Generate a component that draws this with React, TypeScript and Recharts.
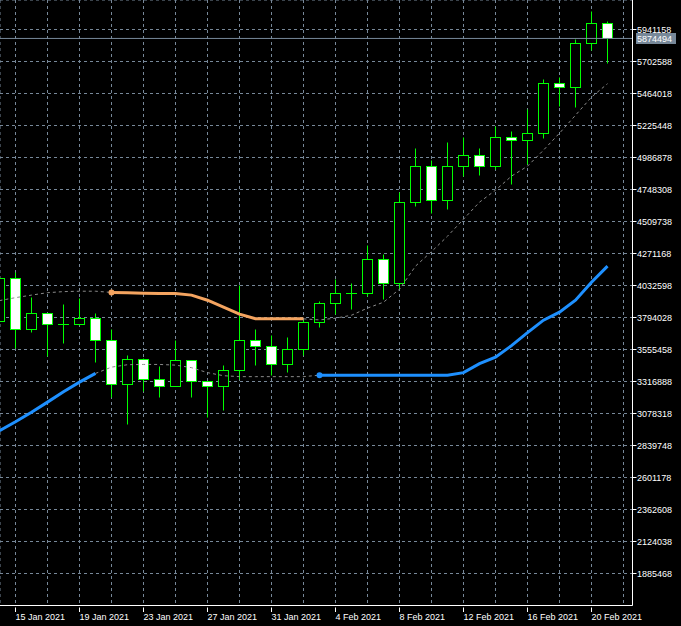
import { ComposedChart, Bar, Line, XAxis, YAxis, CartesianGrid, ReferenceLine } from 'recharts'

const days = [
  '14 Jan', '15 Jan', '16 Jan', '17 Jan', '18 Jan', '19 Jan', '20 Jan', '21 Jan', '22 Jan', '23 Jan',
  '24 Jan', '25 Jan', '26 Jan', '27 Jan', '28 Jan', '29 Jan', '30 Jan', '31 Jan', '1 Feb', '2 Feb',
  '3 Feb', '4 Feb', '5 Feb', '6 Feb', '7 Feb', '8 Feb', '9 Feb', '10 Feb', '11 Feb', '12 Feb',
  '13 Feb', '14 Feb', '15 Feb', '16 Feb', '17 Feb', '18 Feb', '19 Feb', '20 Feb', '21 Feb'
]

const opens = [
  3769000, 4085000, 3705000, 3824000, 3742000, 3742000, 3794000, 3623000, 3295000, 3481000,
  3339000, 3287000, 3474000, 3317000, 3287000, 3399000, 3623000, 3578000, 3444000, 3556000,
  3764000, 3899000, 3973000, 3978000, 4227000, 4052000, 4652000, 4927000, 4667000, 4927000,
  5002000, 4927000, 5138000, 5121000, 5173000, 5539000, 5509000, 5844000, 5986000
]
const highs = [
  4117000, 4134000, 3946000, 3830000, 3893000, 3936000, 3824000, 3707000, 3513000, 3490000,
  3431000, 3625000, 3480000, 3322000, 3439000, 4035000, 3706000, 3660000, 3645000, 3779000,
  3914000, 4078000, 4048000, 4331000, 4271000, 4731000, 5056000, 4967000, 5101000, 5141000,
  5054000, 5223000, 5183000, 5352000, 5571000, 5584000, 5874000, 6078000, 6003000
]
const lows = [
  3759000, 3563000, 3687000, 3508000, 3605000, 3735000, 3463000, 3198000, 2997000, 3247000,
  3202000, 3280000, 3198000, 3053000, 3108000, 3332000, 3443000, 3369000, 3384000, 3511000,
  3720000, 3817000, 3858000, 3955000, 3933000, 4003000, 4624000, 4574000, 4604000, 4850000,
  4857000, 4898000, 4790000, 4942000, 5129000, 5370000, 5364000, 5792000, 5688000
]
const closes = [
  4085000, 3705000, 3824000, 3742000, 3747000, 3794000, 3623000, 3295000, 3481000, 3339000,
  3287000, 3474000, 3317000, 3287000, 3399000, 3623000, 3578000, 3444000, 3556000, 3764000,
  3899000, 3973000, 3978000, 4227000, 4052000, 4652000, 4927000, 4671000, 4927000, 5002000,
  4927000, 5138000, 5121000, 5173000, 5539000, 5509000, 5844000, 5986000, 5874494
]

// indicator: each band is coloured while active, grey dotted otherwise
const upperActive = [
  null, null, null, null, null, null, null, 3981000, 3978000, 3975000,
  3973000, 3973000, 3961000, 3923000, 3871000, 3819000, 3785000, 3784000, 3784000, 3784000,
  null, null, null, null, null, null, null, null, null, null,
  null, null, null, null, null, null, null, null, null
]
const upperDotted = [
  3920000, 3942000, 3961000, 3979000, 3987000, 3990000, 3990000, 3981000, null, null,
  null, null, null, null, null, null, null, null, null, 3784000,
  3776000, 3789000, 3811000, 3864000, 3908000, 4005000, 4177000, 4285000, 4400000, 4527000,
  4654000, 4743000, 4848000, 4922000, 5042000, 5168000, 5302000, 5437000, 5537000
]
const lowerActive = [
  2950000, 3017000, 3088000, 3163000, 3241000, 3312000, 3377000, null, null, null,
  null, null, null, null, null, null, null, null, null, null,
  3364000, 3364000, 3364000, 3364000, 3364000, 3364000, 3364000, 3364000, 3364000, 3383000,
  3450000, 3498000, 3584000, 3681000, 3774000, 3834000, 3923000, 4057000, 4177000
]
const lowerDotted = [
  null, null, null, null, null, null, 3377000, 3424000, 3442000, 3444000,
  3444000, 3439000, 3420000, 3383000, 3360000, 3353000, 3353000, 3353000, 3353000, 3353000,
  3364000, null, null, null, null, null, null, null, null, null,
  null, null, null, null, null, null, null, null, null
]

const priceTicks = [
  1885468, 2124038, 2362608, 2601178, 2839748, 3078318, 3316888, 3555458, 3794028,
  4032598, 4271168, 4509738, 4748308, 4986878, 5225448, 5464018, 5702588, 5941158
]
const dateLabels = [
  '15 Jan 2021', '19 Jan 2021', '23 Jan 2021', '27 Jan 2021', '31 Jan 2021',
  '4 Feb 2021', '8 Feb 2021', '12 Feb 2021', '16 Feb 2021', '20 Feb 2021'
]
const gridTicks = [1, 3, 5, 7, 9, 11, 13, 15, 17, 19, 21, 23, 25, 27, 29, 31, 33, 35, 37, 39]

const data = days.map((day, i) => ({
  i,
  day,
  open: opens[i],
  high: highs[i],
  low: lows[i],
  close: closes[i],
  range: [lows[i], highs[i]],
  upperActive: upperActive[i],
  upperDotted: upperDotted[i],
  lowerActive: lowerActive[i],
  lowerDotted: lowerDotted[i]
}))

const lastClose = closes[closes.length - 1]

const GREEN = '#00ff00'
const GRID = '#778899'
const FONT = 'Liberation Sans, Arial, sans-serif'

function Candle(props: any) {
  const { x, y, width, height, payload } = props
  const top = Math.min(y, y + height)
  const span = Math.abs(height)
  const toY = (v: number) =>
    Math.round(top + ((payload.high - v) / (payload.high - payload.low)) * span) + 0.5
  const cx = Math.floor(x + width / 2) + 0.5
  const yo = toY(payload.open)
  const yc = toY(payload.close)
  const bt = Math.min(yo, yc)
  const bb = Math.max(yo, yc)
  const bull = payload.close >= payload.open
  return (
    <g>
      <line x1={cx} x2={cx} y1={toY(payload.high)} y2={toY(payload.low)} stroke={GREEN} />
      {bb - bt < 1 ? (
        <line x1={cx - 5.5} x2={cx + 5.5} y1={bt} y2={bt} stroke={GREEN} />
      ) : (
        <rect x={cx - 5} y={bt} width={10} height={bb - bt} fill={bull ? '#000' : '#fff'} stroke={GREEN} />
      )}
    </g>
  )
}

function DateTick({ x, y, payload }: any) {
  const n = payload.value - 1
  if (n % 4 !== 0 || !dateLabels[n / 4]) return <g />
  return (
    <g>
      <line x1={x} x2={x} y1={y} y2={y + 4.5} stroke="#fff" />
      <text x={x} y={y + 12.5} fill="#fff" fontSize={9} fontFamily={FONT}>
        {dateLabels[n / 4]}
      </text>
    </g>
  )
}

function PriceTick({ x, y, payload }: any) {
  return (
    <text x={x} y={y + 3} fill="#fff" fontSize={9} fontFamily={FONT}>
      {payload.value}
    </text>
  )
}

function PriceTag({ viewBox }: any) {
  if (!viewBox) return null
  const right = viewBox.x + viewBox.width
  const yy = Math.floor(viewBox.y) + 0.5
  return (
    <g>
      <rect x={right + 3.5} y={yy - 5.5} width={40} height={11} fill={GRID} />
      <text x={right + 4.5} y={yy + 3} fill="#fff" fontSize={9} fontFamily={FONT}>
        {lastClose}
      </text>
    </g>
  )
}

const startDot = (series: (number | null)[], color: string) => (p: any) => {
  const { index, cx, cy } = p
  if (cy == null || index === 0 || series[index] == null || series[index - 1] != null) {
    return <g key={`d-${index}`} />
  }
  return <circle key={`d-${index}`} cx={cx} cy={cy} r={3} fill={color} />
}

export default function App() {
  return (
    <div style={{ position: 'absolute', left: 0, top: 0, width: 681, height: 626, background: '#000' }}>
      <ComposedChart
        width={681}
        height={626}
        data={data}
        margin={{ top: 0, right: 0, bottom: 0, left: 0 }}
      >
        <CartesianGrid stroke={GRID} strokeDasharray="3 3" />
        <XAxis
          dataKey="i"
          type="number"
          domain={[0.03125, 39.5625]}
          allowDataOverflow
          ticks={gridTicks}
          interval={0}
          height={20.5}
          tickSize={0}
          tickLine={false}
          axisLine={{ stroke: '#fff' }}
          tick={<DateTick />}
        />
        <YAxis
          orientation="right"
          type="number"
          domain={[1646899, 6161090]}
          allowDataOverflow
          ticks={priceTicks}
          interval={0}
          width={48.5}
          tickSize={4}
          tickMargin={0.5}
          tickLine={{ stroke: '#fff' }}
          axisLine={{ stroke: '#fff' }}
          tick={<PriceTick />}
        />
        <ReferenceLine y={lastClose} stroke={GRID} label={<PriceTag />} />
        <Bar dataKey="range" barSize={11} shape={<Candle />} isAnimationActive={false} />
        <Line dataKey="upperDotted" stroke="#8a8a8a" strokeWidth={1} strokeDasharray="3 3" dot={false} activeDot={false} isAnimationActive={false} />
        <Line dataKey="lowerDotted" stroke="#8a8a8a" strokeWidth={1} strokeDasharray="3 3" dot={false} activeDot={false} isAnimationActive={false} />
        <Line dataKey="upperActive" stroke="#f4a460" strokeWidth={3} dot={startDot(upperActive, '#f4a460')} activeDot={false} isAnimationActive={false} />
        <Line dataKey="lowerActive" stroke="#1e90ff" strokeWidth={3} dot={startDot(lowerActive, '#1e90ff')} activeDot={false} isAnimationActive={false} />
      </ComposedChart>
    </div>
  )
}
